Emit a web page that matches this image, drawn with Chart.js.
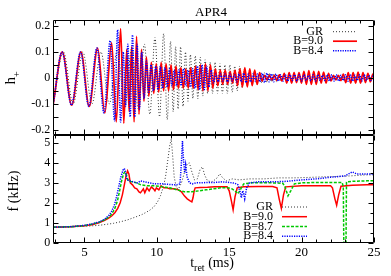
<!DOCTYPE html>
<html>
<head>
<meta charset="utf-8">
<script src="https://cdn.jsdelivr.net/npm/chart.js@4.4.0/dist/chart.umd.min.js"></script>
<style>
  html, body { margin: 0; padding: 0; background: #fff; }
  #wrap { position: relative; width: 391px; height: 276px; }
  #wrap canvas { position: absolute; left: 0; top: 0; }
</style>
</head>
<body>
<div id="wrap">
  <canvas id="topChart" width="391" height="276"></canvas>
  <canvas id="bottomChart" width="391" height="276"></canvas>
</div>
<script>
// ---- upper panel: h+ extrema (t in ms) ----
const hTimeRed = [2.85, 3.47, 4.12, 4.76, 5.33, 5.91, 6.41, 6.88, 7.2, 7.5, 7.72,
	7.92, 8.09, 8.26, 8.43, 8.6, 8.77, 8.94, 9.11, 9.28, 9.45,
	9.62, 9.79, 9.96, 10.13, 10.3, 10.47, 10.64, 10.81, 10.98, 11.15,
	11.32, 11.49, 11.66, 11.83, 12.0, 12.17, 12.34, 12.51, 12.68, 12.85,
	13.02, 13.19, 13.36, 13.53, 13.7, 13.87, 14.04, 14.21, 14.38, 14.55,
	14.72, 14.89, 15.06, 15.23, 15.4, 15.57, 15.74, 15.91, 16.08, 16.25,
	16.42, 16.59, 16.76, 16.93, 17.1, 17.27, 17.44, 17.61, 17.78, 17.95,
	18.12, 18.29, 18.46, 18.63, 18.8, 18.97, 19.14, 19.31, 19.48, 19.65,
	19.82, 19.99, 20.16, 20.33, 20.5, 20.67, 20.84, 21.01, 21.18, 21.35,
	21.52, 21.69, 21.86, 22.03, 22.2, 22.37, 22.54, 22.71, 22.88, 23.05,
	23.22, 23.39, 23.56, 23.73, 23.9, 24.07, 24.24, 24.41, 24.58, 24.75,
	24.92, 25.09];
const hRed = [-0.1, 0.1, -0.105, 0.1, -0.11, 0.115, -0.135, 0.135, -0.17, 0.19, -0.175,
	0.11, -0.13, 0.12, -0.17, 0.16, -0.14, 0.11, -0.09, 0.08, -0.07,
	0.06, -0.06, 0.055, -0.055, 0.06, -0.05, 0.055, -0.05, 0.05, -0.045,
	0.045, -0.04, 0.04, -0.04, 0.035, -0.04, 0.04, -0.04, 0.045, -0.045,
	0.05, -0.05, 0.055, -0.05, 0.05, -0.04, 0.035, -0.03, 0.03, -0.025,
	0.03, -0.025, 0.025, -0.02, 0.03, -0.03, 0.035, -0.035, 0.04, -0.035,
	0.035, -0.03, 0.03, -0.025, 0.02, -0.012, 0.01, -0.008, 0.01, -0.008,
	0.01, -0.01, 0.012, -0.012, 0.018, -0.02, 0.02, -0.02, 0.02, -0.018,
	0.02, -0.02, 0.025, -0.025, 0.028, -0.025, 0.025, -0.025, 0.025, -0.02,
	0.022, -0.02, 0.018, -0.012, 0.01, -0.008, 0.01, -0.01, 0.015, -0.018,
	0.02, -0.02, 0.02, -0.02, 0.022, -0.02, 0.02, -0.018, 0.018, -0.015,
	0.015, -0.015];

const hTimeBlue = [2.85, 3.45, 4.1, 4.73, 5.3, 5.86, 6.35, 6.78, 7.08, 7.29, 7.5,
	7.68, 7.84, 8.0, 8.16, 8.32, 8.48, 8.64, 8.8, 8.96, 9.12,
	9.28, 9.44, 9.6, 9.76, 9.92, 10.08, 10.24, 10.4, 10.56, 10.72,
	10.88, 11.04, 11.2, 11.36, 11.52, 11.68, 11.84, 12.0, 12.16, 12.32,
	12.48, 12.64, 12.8, 12.96, 13.12, 13.28, 13.44, 13.6, 13.76, 13.92,
	14.08, 14.24, 14.4, 14.56, 14.72, 14.88, 15.04, 15.2, 15.36, 15.52,
	15.68, 15.84, 16.0, 16.16, 16.32, 16.48, 16.64, 16.8, 16.96, 17.12,
	17.28, 17.44, 17.6, 17.76, 17.92, 18.08, 18.24, 18.4, 18.56, 18.72,
	18.88, 19.04, 19.2, 19.36, 19.52, 19.68, 19.84, 20.0, 20.16, 20.32,
	20.48, 20.64, 20.8, 20.96, 21.12, 21.28, 21.44, 21.6, 21.76, 21.92,
	22.08, 22.24, 22.4, 22.56, 22.72, 22.88, 23.04, 23.2, 23.36, 23.52,
	23.68, 23.84, 24.0, 24.16, 24.32, 24.48, 24.64, 24.8, 24.96, 25.12];
const hBlue = [-0.1, 0.1, -0.105, 0.1, -0.11, 0.115, -0.135, 0.143, -0.165, 0.185, -0.17,
	0.1, -0.11, 0.13, -0.15, 0.165, -0.15, 0.13, -0.12, 0.1, -0.08,
	0.065, -0.055, 0.05, -0.05, 0.045, -0.045, 0.045, -0.04, 0.04, -0.035,
	0.035, -0.03, 0.03, -0.03, 0.03, -0.03, 0.035, -0.03, 0.03, -0.035,
	0.035, -0.04, 0.045, -0.045, 0.05, -0.045, 0.045, -0.035, 0.03, -0.02,
	0.015, -0.015, 0.015, -0.012, 0.015, -0.015, 0.015, -0.012, 0.012, -0.015,
	0.015, -0.015, 0.018, -0.018, 0.015, -0.015, 0.015, -0.012, 0.015, -0.015,
	0.018, -0.018, 0.018, -0.015, 0.015, -0.015, 0.015, -0.012, 0.012, -0.012,
	0.012, -0.012, 0.012, -0.01, 0.012, -0.012, 0.012, -0.012, 0.012, -0.01,
	0.01, -0.012, 0.012, -0.012, 0.012, -0.01, 0.01, -0.01, 0.012, -0.012,
	0.012, -0.012, 0.012, -0.012, 0.01, -0.01, 0.012, -0.012, 0.012, -0.012,
	0.01, -0.01, 0.012, -0.012, 0.012, -0.01, 0.01, -0.01, 0.01, -0.01];

const hTimeGR = [2.85, 3.55, 4.22, 4.89, 5.52, 6.14, 6.72, 7.27, 7.79, 8.27, 8.72, 9.14, 9.52, 9.87, 10.19, 10.47, 10.72, 10.95,
	11.13, 11.3, 11.47, 11.64, 11.81, 11.98, 12.15, 12.32, 12.49, 12.66,
	12.83, 13.0, 13.17, 13.34, 13.51, 13.68, 13.85, 14.02, 14.19, 14.36,
	14.53, 14.7, 14.87, 15.04, 15.21, 15.38, 15.55, 15.72, 15.89, 16.06,
	16.23, 16.4, 16.57, 16.74, 16.91, 17.08, 17.25, 17.42, 17.59, 17.76,
	17.93, 18.1, 18.27, 18.44, 18.61, 18.78, 18.95, 19.12, 19.29, 19.46,
	19.63, 19.8, 19.97, 20.14, 20.31, 20.48, 20.7, 25.0];
const hGR = [-0.1, 0.1, -0.1, 0.1, -0.1, 0.1, -0.1, 0.105, -0.11, 0.115, -0.12, 0.13, -0.14, 0.155, -0.15, 0.17, -0.16, 0.14,
	-0.13, 0.12, -0.12, 0.12, -0.11, 0.1, -0.09, 0.09, -0.08, 0.085,
	-0.08, 0.08, -0.07, 0.07, -0.06, 0.06, -0.06, 0.06, -0.06, 0.055,
	-0.06, 0.05, -0.06, 0.05, -0.055, 0.045, -0.05, 0.045, -0.04, 0.035,
	-0.03, 0.03, -0.025, 0.025, -0.025, 0.02, -0.02, 0.02, -0.018, 0.018,
	-0.015, 0.015, -0.015, 0.015, -0.012, 0.012, -0.012, 0.012, -0.01, 0.01,
	-0.01, 0.01, -0.01, 0.01, -0.008, 0.008, 0, 0];

// ---- lower panel: frequency f (kHz) ----
const fTimeGR = [2.85, 4, 5, 6, 7, 7.5, 8, 8.5, 9, 9.5, 9.8, 10.05, 10.25, 10.45, 10.6, 10.75, 10.9, 11.0, 11.1, 11.2,
	11.35, 11.5, 11.7, 11.9, 12.1, 12.25, 12.4, 12.6, 12.8, 13.0, 13.15, 13.3, 13.5, 13.8, 14.1, 14.35, 14.55, 14.8,
	15.2, 15.7, 16.4, 17.4, 18.4, 19.4, 20.4, 21.4, 22.4, 23.4, 24.4, 25];
const fGR = [0.78, 0.79, 0.82, 0.87, 0.97, 1.05, 1.15, 1.28, 1.42, 1.62, 1.8, 2.05, 2.35, 2.8, 3.3, 4.1, 4.9, 5.2, 4.3, 3.3,
	2.75, 2.7, 3.0, 3.5, 3.95, 4.0, 3.6, 3.15, 3.2, 3.7, 3.8, 3.4, 3.1, 3.05, 3.2, 3.45, 3.25, 3.1,
	3.2, 3.15, 3.2, 3.2, 3.25, 3.25, 3.27, 3.3, 3.32, 3.35, 3.4, 3.4];

const fTimeRed = [2.85, 4, 5, 5.5, 6, 6.4, 6.7, 6.9, 7.1, 7.3, 7.47, 7.62, 7.77, 7.89, 7.98, 8.07, 8.17, 8.32, 8.47, 8.62,
	8.77, 8.87, 8.97, 9.07, 9.17, 9.32, 9.47, 9.62, 9.77, 9.87, 9.97, 10.14, 10.29, 10.49, 10.7, 10.9, 11.2, 11.5, 11.7, 11.9,
	12.1, 12.3, 12.42, 12.5, 12.58, 12.65, 13, 13.5, 14, 14.5, 14.85, 15.0, 15.15, 15.27, 15.4, 15.55, 16, 17, 18, 18.3,
	18.45, 18.6, 18.75, 18.9, 20, 21, 22, 22.13, 22.3, 22.42, 22.56, 22.72, 23.5, 24.5, 25];
const fRed = [0.78, 0.8, 0.85, 0.9, 1.0, 1.12, 1.25, 1.35, 1.5, 1.72, 2.0, 2.4, 2.95, 3.4, 3.6, 3.45, 3.0, 2.9, 2.75, 2.7,
	2.55, 2.5, 2.6, 2.7, 2.5, 2.75, 2.6, 2.8, 2.7, 2.6, 2.75, 2.65, 2.85, 2.75, 2.75, 2.7, 2.7, 2.65, 2.55, 2.35,
	2.2, 2.1, 2.05, 2.25, 2.6, 2.75, 2.77, 2.78, 2.8, 2.8, 2.8, 2.6, 2.1, 1.65, 2.3, 2.75, 2.8, 2.82, 2.82, 2.75,
	2.2, 1.72, 2.4, 2.8, 2.85, 2.85, 2.85, 2.75, 2.2, 1.88, 2.4, 2.83, 2.88, 2.9, 2.9];

const fTimeGreen = [2.85, 4, 5, 5.5, 6, 6.4, 6.7, 6.9, 7.1, 7.28, 7.43, 7.57, 7.7, 7.8, 7.9, 8.02, 8.3, 8.6, 8.9, 9.4,
	9.9, 10.4, 10.9, 11.4, 11.9, 12.4, 12.9, 13.4, 13.9, 14.4, 14.9, 15.2, 15.4, 15.61, 15.8, 16.0, 16.5, 17, 18, 18.7,
	18.85, 19.06, 19.25, 19.5, 20, 21, 22, 22.8, 22.88, 22.92, 23.06, 23.1, 23.5, 24.5, 25];
const fGreen = [0.78, 0.8, 0.86, 0.92, 1.02, 1.15, 1.3, 1.45, 1.72, 2.1, 2.6, 3.1, 3.45, 3.55, 3.4, 3.1, 3.05, 3.0, 2.9, 2.85,
	2.85, 2.8, 2.75, 2.65, 2.55, 2.55, 2.6, 2.65, 2.7, 2.75, 2.75, 2.7, 2.6, 2.45, 2.7, 2.95, 3.0, 3.0, 3.0, 2.98,
	2.8, 2.35, 2.6, 2.95, 3.0, 3.02, 3.02, 3.02, 2.8, -0.5, -0.5, 3.05, 3.08, 3.1, 3.1];

const fTimeBlue = [2.85, 4, 5, 5.5, 6, 6.4, 6.7, 6.9, 7.07, 7.22, 7.37, 7.52, 7.67, 7.75, 7.82, 7.92, 8.07, 8.37, 8.67, 8.87,
	9.17, 9.47, 9.87, 10.37, 10.87, 11.37, 11.6, 11.7, 11.77, 11.84, 11.92, 11.99, 12.09, 12.25, 12.45, 12.7, 13, 13.5, 14, 14.5,
	15, 15.4, 15.6, 15.75, 15.84, 15.93, 16.0, 16.07, 16.2, 16.4, 17, 18, 19, 20, 21, 22, 23, 23.5, 23.8, 25];
const fBlue = [0.78, 0.8, 0.87, 0.94, 1.04, 1.18, 1.38, 1.6, 1.9, 2.3, 2.8, 3.3, 3.65, 3.72, 3.6, 3.2, 3.1, 3.05, 3.0, 3.1,
	3.05, 3.0, 2.95, 2.95, 2.92, 2.9, 2.95, 4.0, 5.1, 4.2, 3.5, 3.9, 3.3, 3.0, 2.95, 3.0, 3.0, 3.02, 3.02, 3.05,
	3.02, 2.98, 2.9, 2.55, 2.25, 2.6, 2.45, 2.2, 2.75, 3.0, 3.05, 3.05, 3.08, 3.15, 3.2, 3.28, 3.35, 3.55, 3.45, 3.45];

// ---- axis labels ----
const hTicks = [-0.2, -0.15, -0.1, -0.05, 0, 0.05, 0.1, 0.15, 0.2];
const fTicks = [0, 1, 2, 3, 4, 5];
const tTicks = [5, 10, 15, 20, 25];

const FONT = '"Liberation Serif", "Times New Roman", serif';

const styleGR = {color: '#333333', dash: [1, 2], width: 1};
const style90 = {color: '#ff0000', dash: [], width: 1.7};
const style87 = {color: '#00c800', dash: [3, 1.5], width: 1.5};
const style84 = {color: '#0000ff', dash: [1.2, 1.2], width: 1.5};

const toPoints = (ts, vs) => ts.map((t, i) => ({x: t, y: vs[i]}));

const makeLine = (label, ts, vs, st, smooth, order) => ({
	label: label,
	data: toPoints(ts, vs),
	borderColor: st.color,
	borderDash: st.dash,
	borderWidth: st.width,
	pointRadius: 0,
	fill: false,
	tension: 0,
	cubicInterpolationMode: smooth ? 'monotone' : 'default',
	clip: 0,
	order: order,
});

// text with a subscript, centred on (cx, baseline cy)
const drawSubText = (ctx, cx, cy, main, sub, tail, size, subSize) => {
	ctx.font = size + 'px ' + FONT;
	const w1 = ctx.measureText(main).width;
	const w3 = ctx.measureText(tail).width;
	ctx.font = subSize + 'px ' + FONT;
	const w2 = ctx.measureText(sub).width;
	let x = cx - (w1 + w2 + w3) / 2;
	ctx.textAlign = 'left';
	ctx.textBaseline = 'alphabetic';
	ctx.font = size + 'px ' + FONT;
	ctx.fillText(main, x, cy);
	x += w1;
	ctx.font = subSize + 'px ' + FONT;
	ctx.fillText(sub, x, cy + size * 0.3);
	x += w2;
	ctx.font = size + 'px ' + FONT;
	ctx.fillText(tail, x, cy);
};

// frame around the plot and inward tick marks on all four sides
const frameTicks = {
	id: 'frameTicks',
	afterDatasetsDraw(chart, args, o) {
		const {ctx, chartArea: a, scales} = chart;
		const x = scales.x, y = scales.y;
		const top = Math.round(a.top) + 0.5, bottom = Math.round(a.bottom) - 0.5;
		const left = Math.round(a.left) + 0.5, right = Math.round(a.right) - 0.5;
		ctx.save();
		ctx.strokeStyle = '#000';
		ctx.lineWidth = 1;
		ctx.setLineDash([]);
		ctx.beginPath();
		for (let v = 3; v <= 25; v++) {
			const px = Math.round(x.getPixelForValue(v)) + 0.5;
			const len = v % 5 === 0 ? 5 : 3;
			ctx.moveTo(px, bottom); ctx.lineTo(px, bottom - len);
			ctx.moveTo(px, top); ctx.lineTo(px, top + len);
		}
		const n0 = Math.ceil(y.min / o.minor - 1e-6), n1 = Math.floor(y.max / o.minor + 1e-6);
		for (let k = n0; k <= n1; k++) {
			const v = k * o.minor;
			const r = v / o.major;
			const len = Math.abs(r - Math.round(r)) < 1e-6 ? 5 : 3;
			const py = Math.round(y.getPixelForValue(v)) + 0.5;
			ctx.moveTo(left, py); ctx.lineTo(left + len, py);
			ctx.moveTo(right, py); ctx.lineTo(right - len, py);
		}
		ctx.rect(left, top, right - left, bottom - top);
		ctx.stroke();
		ctx.restore();
	},
};

// titles, axis names and gnuplot-like legend
const decor = {
	id: 'decor',
	afterDraw(chart, args, o) {
		const ctx = chart.ctx;
		ctx.save();
		ctx.fillStyle = '#000';
		(o.texts || []).forEach((t) => {
			ctx.save();
			ctx.translate(t.x, t.y);
			if (t.rotate) ctx.rotate(-Math.PI / 2);
			drawSubText(ctx, 0, 0, t.main, t.sub || '', t.tail || '', t.size, t.subSize || t.size);
			ctx.restore();
		});
		(o.legend || []).forEach((item) => {
			const ds = chart.data.datasets.find((d) => d.label === item.label);
			ctx.font = '12px ' + FONT;
			ctx.textAlign = 'right';
			ctx.textBaseline = 'middle';
			ctx.fillText(item.label, o.legendX, item.y);
			ctx.strokeStyle = ds.borderColor;
			ctx.lineWidth = ds.borderWidth;
			ctx.setLineDash(ds.borderDash);
			ctx.beginPath();
			ctx.moveTo(o.lineX0, item.y);
			ctx.lineTo(o.lineX1, item.y);
			ctx.stroke();
		});
		ctx.restore();
	},
};

const baseOptions = {
	responsive: false,
	maintainAspectRatio: false,
	devicePixelRatio: 1,
	animation: false,
	events: [],
};

const topChart = new Chart(document.getElementById('topChart'), {
	type: 'line',
	data: {
		datasets: [
			makeLine('GR', hTimeGR, hGR, styleGR, true, 3),
			makeLine('B=9.0', hTimeRed, hRed, style90, true, 2),
			makeLine('B=8.4', hTimeBlue, hBlue, style84, true, 1),
		],
	},
	options: {
		...baseOptions,
		layout: {padding: {left: 0, right: 17, top: 19.5, bottom: 141}},
		scales: {
			x: {type: 'linear', min: 2.85, max: 25, display: false},
			y: {
				type: 'linear',
				min: -0.22,
				max: 0.225,
				afterFit: (s) => { s.width = 53.3; },
				afterBuildTicks: (s) => { s.ticks = hTicks.map((v) => ({value: v})); },
				ticks: {
					color: '#000',
					padding: 3,
					font: {family: FONT, size: 12},
					callback: (v) => String(Math.round(v * 100) / 100),
				},
				grid: {display: false, drawTicks: false},
				border: {display: false},
			},
		},
		plugins: {
			legend: {display: false},
			tooltip: {enabled: false},
			frameTicks: {major: 0.05, minor: 0.05},
			decor: {
				texts: [
					{main: 'APR4', x: 211, y: 16, size: 13},
					{main: 'h', sub: '+', x: 15, y: 78, size: 15, subSize: 10, rotate: true},
				],
				legendX: 323,
				lineX0: 333,
				lineX1: 357,
				legend: [
					{label: 'GR', y: 31.7},
					{label: 'B=9.0', y: 41.2},
					{label: 'B=8.4', y: 50.7},
				],
			},
		},
	},
	plugins: [frameTicks, decor],
});

const bottomChart = new Chart(document.getElementById('bottomChart'), {
	type: 'line',
	data: {
		datasets: [
			makeLine('GR', fTimeGR, fGR, styleGR, false, 4),
			makeLine('B=9.0', fTimeRed, fRed, {...style90, width: 1.5}, false, 3),
			makeLine('B=8.7', fTimeGreen, fGreen, style87, false, 2),
			makeLine('B=8.4', fTimeBlue, fBlue, style84, false, 1),
		],
	},
	options: {
		...baseOptions,
		layout: {padding: {left: 0, right: 17, top: 135, bottom: 0}},
		scales: {
			x: {
				type: 'linear',
				min: 2.85,
				max: 25,
				afterFit: (s) => { s.height = 33.3; },
				afterBuildTicks: (s) => { s.ticks = tTicks.map((v) => ({value: v})); },
				ticks: {color: '#000', padding: 2, maxRotation: 0, autoSkip: false, font: {family: FONT, size: 13}},
				grid: {display: false, drawTicks: false},
				border: {display: false},
			},
			y: {
				type: 'linear',
				min: 0,
				max: 5.4,
				afterFit: (s) => { s.width = 53.3; },
				afterBuildTicks: (s) => { s.ticks = fTicks.map((v) => ({value: v})); },
				ticks: {color: '#000', padding: 3, font: {family: FONT, size: 12}},
				grid: {display: false, drawTicks: false},
				border: {display: false},
			},
		},
		plugins: {
			legend: {display: false},
			tooltip: {enabled: false},
			frameTicks: {major: 1, minor: 0.5},
			decor: {
				texts: [
					{main: 't', sub: 'ret', tail: ' (ms)', x: 212, y: 267, size: 14, subSize: 10},
					{main: 'f (kHz)', x: 18, y: 191, size: 14, rotate: true},
				],
				legendX: 273,
				lineX0: 282,
				lineX1: 307,
				legend: [
					{label: 'GR', y: 207},
					{label: 'B=9.0', y: 216.7},
					{label: 'B=8.7', y: 226.5},
					{label: 'B=8.4', y: 236.3},
				],
			},
		},
	},
	plugins: [frameTicks, decor],
});
</script>
</body>
</html>
